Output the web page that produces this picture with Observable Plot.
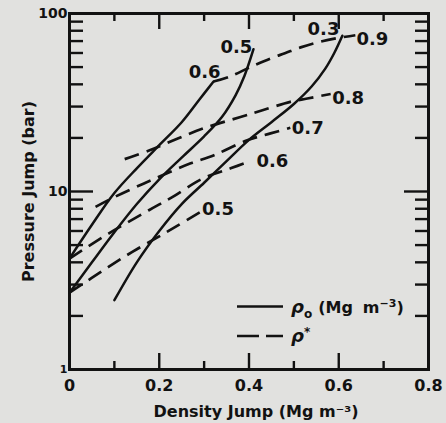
<!DOCTYPE html>
<html><head><meta charset="utf-8">
<script src="https://cdn.jsdelivr.net/npm/d3@7"></script>
<script src="https://cdn.jsdelivr.net/npm/@observablehq/plot@0.6"></script>
<style>
html,body{margin:0;padding:0;background:#e1e1df;}
#chart{position:relative;width:446px;height:423px;overflow:hidden;}
#legend{position:absolute;left:0;top:0;}
svg text{font-family:"DejaVu Sans",sans-serif;font-weight:bold;fill:#121212;}
</style></head><body>
<div id="chart"></div>
<script>
// ---- axis ticks ----
const xTickValues = [0, 0.2, 0.4, 0.6, 0.8];
const xTickLabels = ["0", "0.2", "0.4", "0.6", "0.8"];
const xMajorTicks = [0.2, 0.4, 0.6];
const xMinorTicks = [0.1, 0.3, 0.5, 0.7];
const yTickLabels = [1, 10, 100];
const yMajorTicks = [10];
const yMinorTicks = [2, 3, 4, 5, 6, 7, 8, 9, 20, 30, 40, 50, 60, 70, 80, 90];

// ---- solid curves: rho0 (Mg m^-3), [density jump, pressure jump (bar)] ----
const rho0_06 = [[0,4.2],[0.05,6.5],[0.1,9.8],[0.15,13.5],[0.2,18.2],[0.25,24.5],[0.29,33],[0.321,41.5]];
const rho0_05 = [[0,2.7],[0.05,4.0],[0.1,5.9],[0.15,8.5],[0.2,11.7],[0.25,15.5],[0.3,20.4],[0.34,26.3],[0.37,34.7],[0.39,44.7],[0.41,63]];
const rho0_03 = [[0.1,2.45],[0.15,4.0],[0.2,6.0],[0.25,8.5],[0.3,11.2],[0.35,14.8],[0.4,19.5],[0.45,24.5],[0.5,31],[0.54,39],[0.57,49],[0.59,60],[0.608,75]];

// ---- dashed curves: rho* ----
const rhoS_09 = [[0.321,41.5],[0.355,44],[0.403,50],[0.448,55.9],[0.48,59.8],[0.515,64.5],[0.555,69],[0.595,72.6],[0.637,75.5]];
const rhoS_08 = [[0.123,15.2],[0.18,17.1],[0.24,19.8],[0.3,22.7],[0.381,26.2],[0.43,28.6],[0.492,31.9],[0.53,33.3],[0.582,35.3]];
const rhoS_07 = [[0.058,8.2],[0.1,9.3],[0.166,11.1],[0.225,12.9],[0.27,14.4],[0.322,16.0],[0.396,19.4],[0.448,21.2],[0.492,22.8]];
const rhoS_06 = [[0,4.2],[0.087,5.8],[0.177,7.85],[0.229,9.3],[0.296,11.8],[0.359,13.5],[0.403,14.8]];
const rhoS_05 = [[0,2.7],[0.087,3.77],[0.14,4.58],[0.192,5.45],[0.236,6.33],[0.292,7.68]];

// ---- curve labels ----
const curveLabelText = ["0.6", "0.5", "0.3", "0.9", "0.8", "0.7", "0.6", "0.5"];
const curveLabelX    = [0.301, 0.372, 0.566, 0.675, 0.621, 0.531, 0.452, 0.331];
const curveLabelY    = [47, 65, 81.4, 71.6, 33.6, 22.8, 14.8, 7.93];

const xTitle = "Density Jump (Mg m\u207B\u00B3)";
const yTitle = "Pressure Jump (bar)";

// ---- build tables ----
const toRows = (series, pts) => pts.map(([x, y]) => ({series, x, y}));
const solid = [
  ...toRows("0.6", rho0_06), ...toRows("0.5", rho0_05), ...toRows("0.3", rho0_03)
];
const dashed = [
  ...toRows("0.9", rhoS_09), ...toRows("0.8", rhoS_08), ...toRows("0.7", rhoS_07),
  ...toRows("0.6", rhoS_06), ...toRows("0.5", rhoS_05)
];
const labels = curveLabelText.map((t, i) => ({t, x: curveLabelX[i], y: curveLabelY[i]}));

const W = 446, H = 423, mL = 69, mR = 18, mT = 13, mB = 54;
const pw = W - mL - mR, ph = H - mT - mB;
const ink = "#121212";

const chart = Plot.plot({
  width: W, height: H,
  marginLeft: mL, marginRight: mR, marginTop: mT, marginBottom: mB,
  style: {background: "transparent", color: ink, fontFamily: "DejaVu Sans", fontWeight: "bold"},
  x: {domain: [0, 0.8], axis: null},
  y: {type: "log", domain: [1, 100], axis: null},
  marks: [
    // ticks (inward)
    Plot.tickX(xMajorTicks, {x: d => d, insetTop: ph - 16, stroke: ink, strokeWidth: 2.4}),
    Plot.tickX(xMinorTicks, {x: d => d, insetTop: ph - 8, stroke: ink, strokeWidth: 2.4}),
    Plot.tickX(xMajorTicks, {x: d => d, insetBottom: ph - 16, stroke: ink, strokeWidth: 2.4}),
    Plot.tickX(xMinorTicks, {x: d => d, insetBottom: ph - 8, stroke: ink, strokeWidth: 2.4}),
    Plot.tickY(yMajorTicks, {y: d => d, insetRight: pw - 24, stroke: ink, strokeWidth: 2.4}),
    Plot.tickY(yMinorTicks, {y: d => d, insetRight: pw - 14, stroke: ink, strokeWidth: 2.4}),
    Plot.tickY(yMajorTicks, {y: d => d, insetLeft: pw - 24, stroke: ink, strokeWidth: 2.4}),
    Plot.tickY(yMinorTicks, {y: d => d, insetLeft: pw - 13, stroke: ink, strokeWidth: 2.4}),
    Plot.frame({stroke: ink, strokeWidth: 3}),
    // curves
    Plot.line(solid, {x: "x", y: "y", z: "series", curve: "catmull-rom", stroke: ink, strokeWidth: 2.5}),
    Plot.line(dashed, {x: "x", y: "y", z: "series", curve: "catmull-rom", stroke: ink, strokeWidth: 2.7, strokeDasharray: "15,8", strokeLinecap: "butt"}),
    // curve labels
    Plot.text(labels, {x: "x", y: "y", text: "t", fontSize: 18, fontWeight: "bold", fill: ink, textAnchor: "middle", lineAnchor: "middle"}),
    // tick labels
    Plot.text(xTickValues, {x: d => d, frameAnchor: "bottom", text: (d, i) => xTickLabels[i], dy: 16, fontSize: 16, fontWeight: "bold", fill: ink, lineAnchor: "middle"}),
    Plot.text(yTickLabels, {y: d => d, frameAnchor: "left", text: d => String(d), dx: -2, fontSize: d => d === 1 ? 11 : 14, fontWeight: "bold", fill: ink, textAnchor: "end", lineAnchor: "middle"}),
    // axis titles
    Plot.text([xTitle], {frameAnchor: "bottom", text: d => d, dy: 42, dx: 7, fontSize: 16, fontWeight: "bold", fill: ink, lineAnchor: "middle"}),
    Plot.text([yTitle], {frameAnchor: "left", text: d => d, dx: -41, rotate: -90, fontSize: 16, fontWeight: "bold", fill: ink, textAnchor: "middle", lineAnchor: "middle"})
  ]
});
const host = document.getElementById("chart");
host.appendChild(chart);

// legend overlay
const lg = `
<svg id="legend" width="${W}" height="${H}" xmlns="http://www.w3.org/2000/svg">
  <line x1="237" y1="306.5" x2="283" y2="306.5" stroke="${ink}" stroke-width="2.6"/>
  <line x1="237" y1="336" x2="283" y2="336" stroke="${ink}" stroke-width="2.7" stroke-dasharray="22,7"/>
  <text x="291" y="313" font-size="16"><tspan font-style="italic" font-size="18">\u03C1</tspan><tspan font-size="12" dy="5">o</tspan><tspan dy="-5" dx="6">(Mg</tspan><tspan dx="10">m</tspan><tspan font-size="11" dy="-6">\u22123</tspan><tspan dy="6">)</tspan></text>
  <text x="291" y="342" font-size="16"><tspan font-style="italic" font-size="18">\u03C1</tspan><tspan font-size="12" dy="-6">*</tspan></text>
</svg>`;
host.insertAdjacentHTML("beforeend", lg);
</script>
</body></html>
